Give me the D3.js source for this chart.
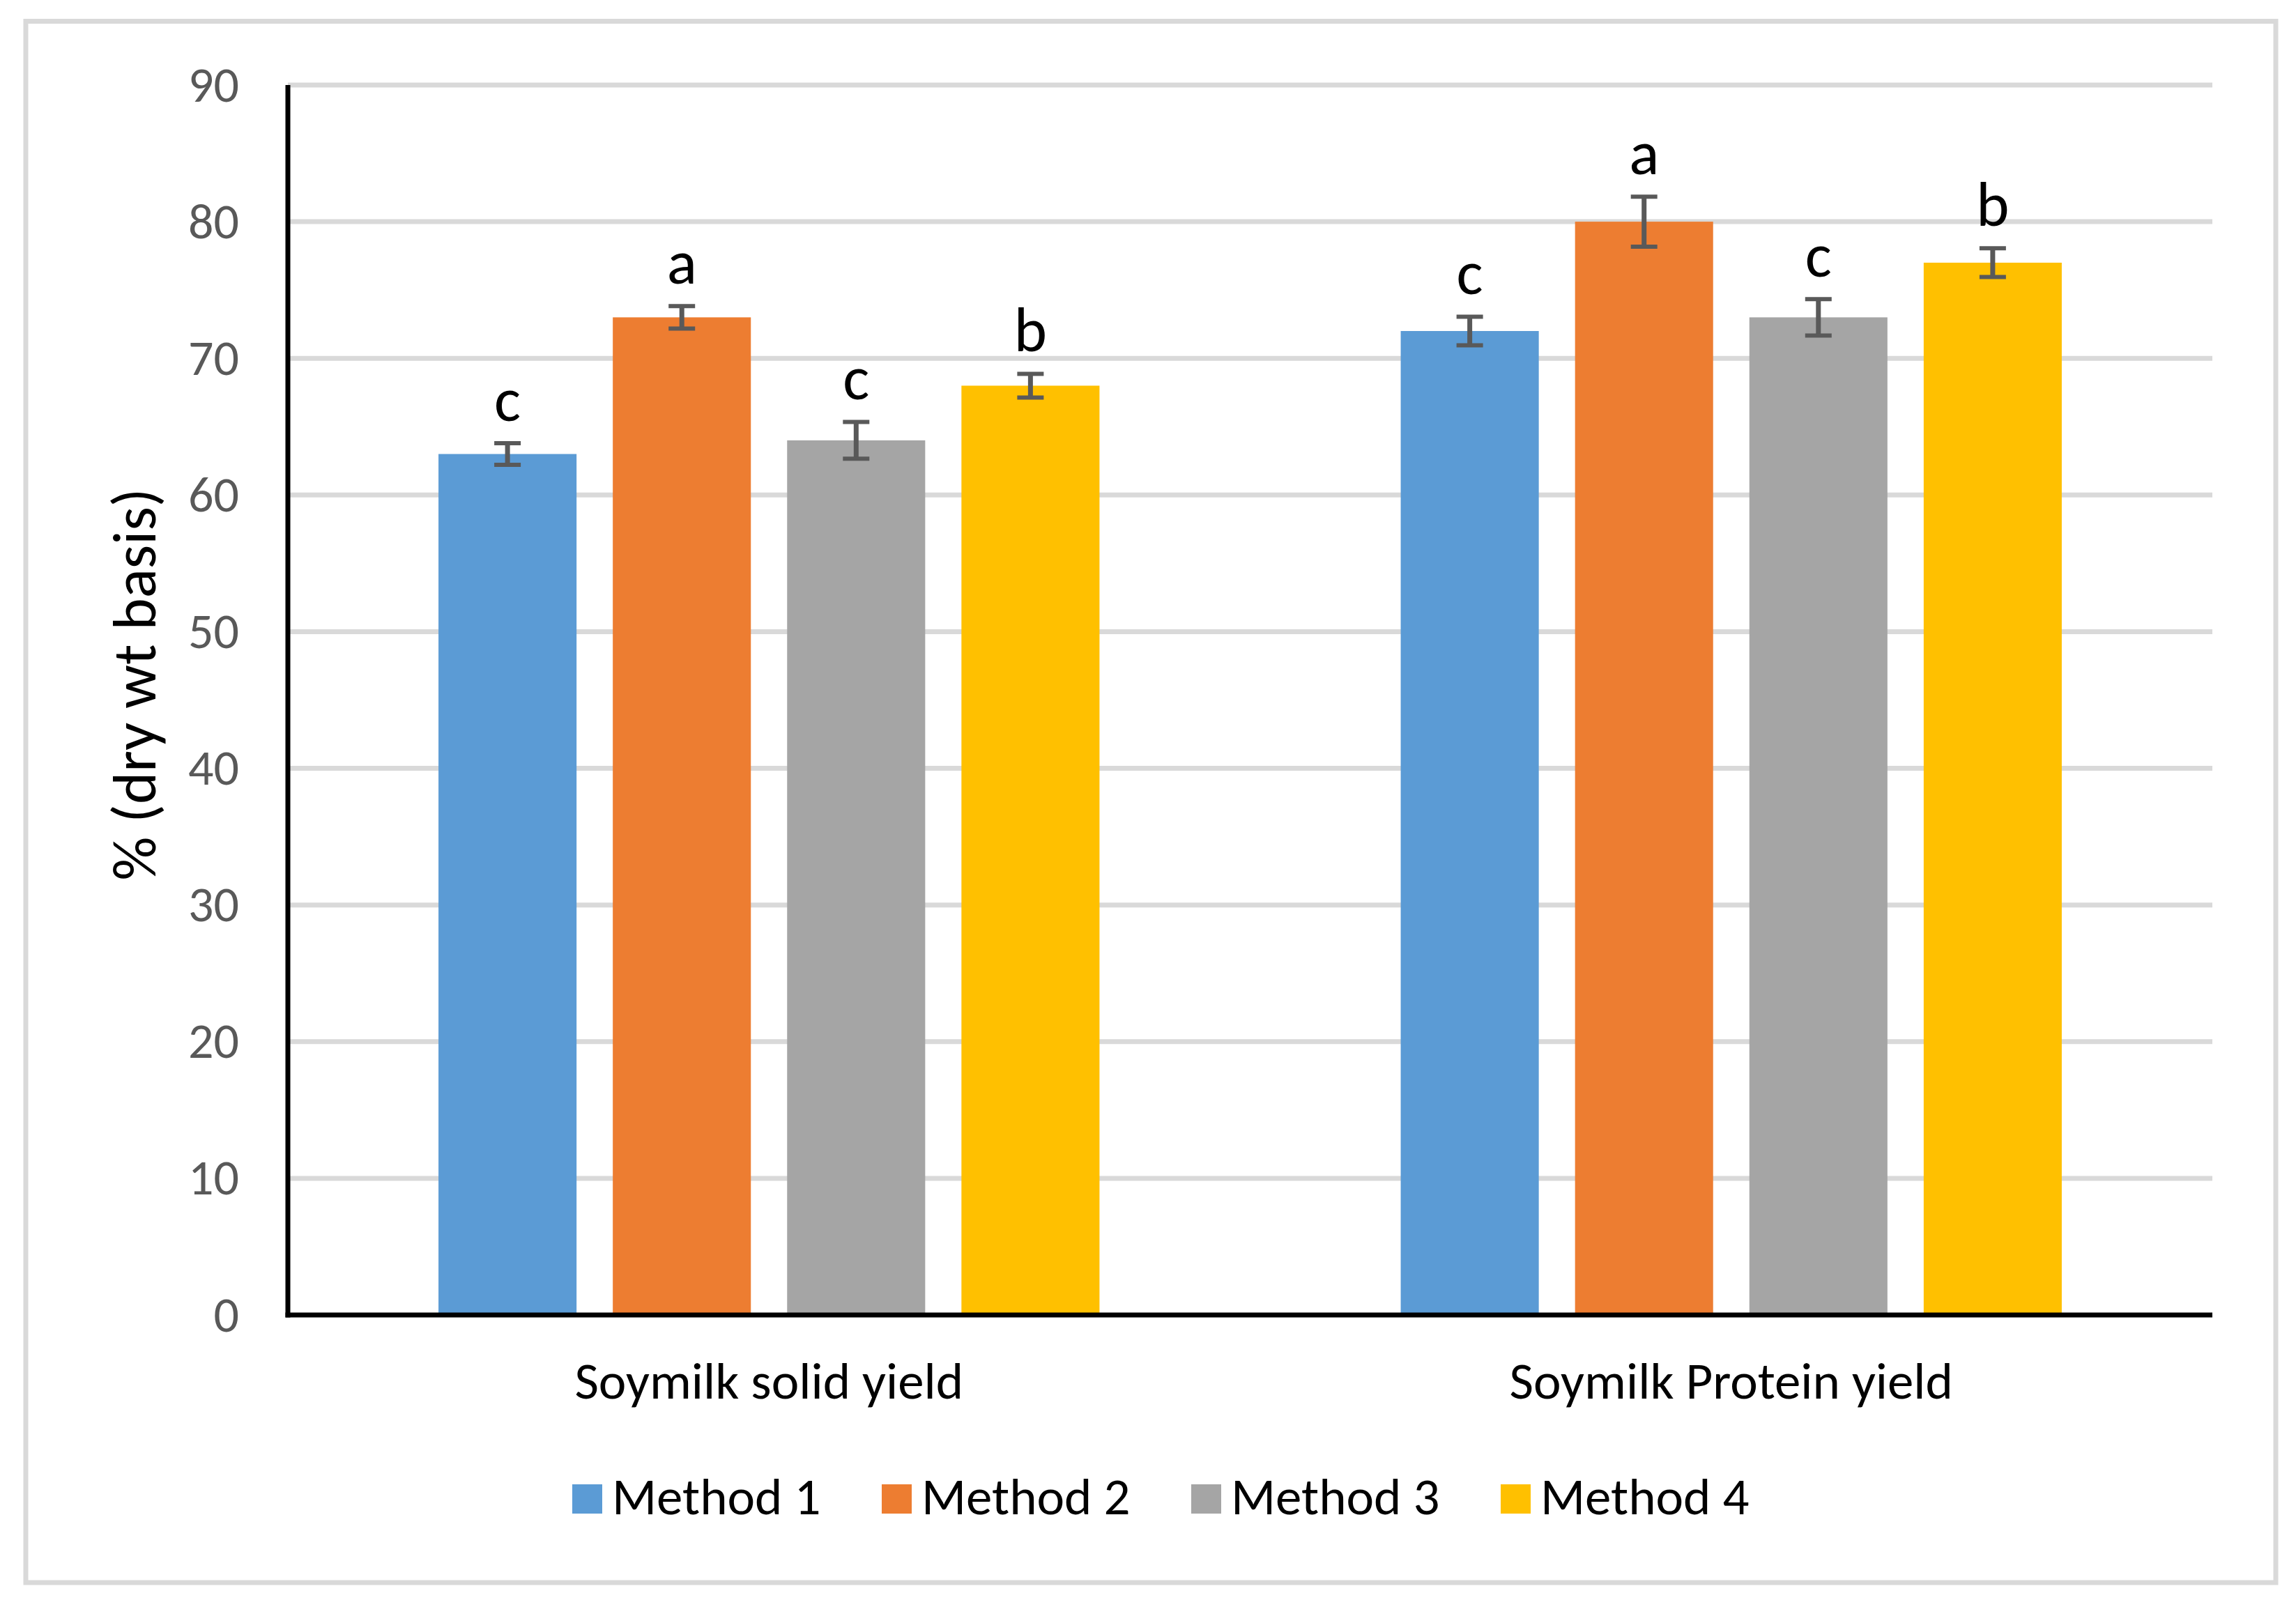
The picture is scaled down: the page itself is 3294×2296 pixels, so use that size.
<!DOCTYPE html>
<html>
<head>
<meta charset="utf-8">
<script src="https://cdn.jsdelivr.net/npm/d3@7"></script>
<style>
    body { margin: 0; background: #fff; }
    text { font-family: Carlito, Lato, sans-serif; }
</style>
</head>
<body>
<div id="chart"></div>
<script>
// chart values
const categories = ["Soymilk solid yield", "Soymilk Protein yield"];
const methods = ["Method 1", "Method 2", "Method 3", "Method 4"];
const solidYield = [63, 73, 64, 68];
const proteinYield = [72, 80, 73, 77];
const solidError = [0.79, 0.82, 1.35, 0.87];
const proteinError = [1.05, 1.83, 1.33, 1.05];
const solidLetters = ["c", "a", "c", "b"];
const proteinLetters = ["c", "a", "c", "b"];
const yTicks = [0, 10, 20, 30, 40, 50, 60, 70, 80, 90];

const colors = ["#5B9BD5", "#ED7D31", "#A5A5A5", "#FFC000"];

const width = 3294;
const height = 2296;
const plotLeft = 413;
const plotRight = 3174;
const plotTop = 122;
const plotBottom = 1887;

// one row per bar
const values = [solidYield, proteinYield];
const errors = [solidError, proteinError];
const letters = [solidLetters, proteinLetters];
const data = [];
categories.forEach((cat, i) => {
    methods.forEach((m, j) => {
        data.push({ cat: cat, method: m, value: values[i][j], err: errors[i][j], letter: letters[i][j] });
    });
});

const xScale = d3.scaleBand()
                 .domain(categories)
                 .range([plotLeft, plotRight]);
const xInner = d3.scaleBand()
                 .domain(methods)
                 .range([0, xScale.bandwidth()])
                 .paddingInner(0.208)
                 .paddingOuter(0.864);
const yScale = d3.scaleLinear()
                 .domain([0, 90])
                 .range([plotBottom, plotTop]);
const color = d3.scaleOrdinal()
                .domain(methods)
                .range(colors);

const svg = d3.select("#chart")
              .append("svg")
              .attr("width", width)
              .attr("height", height);

// outer chart border
svg.append("rect")
   .attr("x", 37)
   .attr("y", 30.5)
   .attr("width", 3265 - 37)
   .attr("height", 2271 - 30.5)
   .attr("fill", "#fff")
   .attr("stroke", "#D9D9D9")
   .attr("stroke-width", 7);

// gridlines
svg.append("g")
   .selectAll("line")
   .data(yTicks.slice(1))
   .enter()
   .append("line")
   .attr("x1", plotLeft)
   .attr("x2", plotRight)
   .attr("y1", (d) => yScale(d))
   .attr("y2", (d) => yScale(d))
   .attr("stroke", "#D9D9D9")
   .attr("stroke-width", 7);

// bars
svg.append("g")
   .selectAll("rect")
   .data(data)
   .enter()
   .append("rect")
   .attr("x", (d) => xScale(d.cat) + xInner(d.method))
   .attr("y", (d) => yScale(d.value))
   .attr("width", xInner.bandwidth())
   .attr("height", (d) => plotBottom - yScale(d.value))
   .attr("fill", (d) => color(d.method));

// error bars
const errG = svg.append("g")
                .attr("stroke", "#595959")
                .attr("fill", "none");
const cx = (d) => xScale(d.cat) + xInner(d.method) + xInner.bandwidth() / 2;

errG.selectAll(".stem")
    .data(data)
    .enter()
    .append("line")
    .attr("class", "stem")
    .attr("x1", cx)
    .attr("x2", cx)
    .attr("y1", (d) => yScale(d.value + d.err))
    .attr("y2", (d) => yScale(d.value - d.err))
    .attr("stroke-width", 7);

errG.selectAll(".cap")
    .data(data.flatMap((d) => [d.value + d.err, d.value - d.err].map((v) => ({ d: d, v: v }))))
    .enter()
    .append("line")
    .attr("class", "cap")
    .attr("x1", (e) => cx(e.d) - 19)
    .attr("x2", (e) => cx(e.d) + 19)
    .attr("y1", (e) => yScale(e.v))
    .attr("y2", (e) => yScale(e.v))
    .attr("stroke-width", 6);

// significance letters
svg.append("g")
   .selectAll("text")
   .data(data)
   .enter()
   .append("text")
   .attr("x", cx)
   .attr("y", (d) => yScale(d.value + d.err) - 32)
   .attr("text-anchor", "middle")
   .attr("font-size", 90)
   .attr("fill", "#000")
   .text((d) => d.letter);

// y axis
const yAxis = d3.axisLeft(yScale)
                .tickValues(yTicks)
                .tickSize(0)
                .tickPadding(70);
const yG = svg.append("g")
              .attr("transform", "translate(" + plotLeft + ", 0)")
              .call(yAxis);
yG.select(".domain").remove();
yG.selectAll("text")
  .attr("font-size", 72)
  .attr("fill", "#595959")
  .attr("font-family", "Carlito, Lato, sans-serif");

svg.append("line")
   .attr("x1", plotLeft)
   .attr("x2", plotLeft)
   .attr("y1", plotTop)
   .attr("y2", plotBottom + 3.5)
   .attr("stroke", "#000")
   .attr("stroke-width", 7);

// x axis
svg.append("line")
   .attr("x1", plotLeft - 3.5)
   .attr("x2", plotRight)
   .attr("y1", plotBottom)
   .attr("y2", plotBottom)
   .attr("stroke", "#000")
   .attr("stroke-width", 7);

svg.append("g")
   .selectAll("text")
   .data(categories)
   .enter()
   .append("text")
   .attr("x", (d) => xScale(d) + xScale.bandwidth() / 2)
   .attr("y", 2007)
   .attr("text-anchor", "middle")
   .attr("font-size", 75)
   .attr("fill", "#000")
   .text((d) => d);

// y axis title
svg.append("text")
   .attr("transform", "translate(223, 982) rotate(-90)")
   .attr("text-anchor", "middle")
   .attr("font-size", 88)
   .attr("fill", "#000")
   .text("% (dry wt basis)");

// legend
const legend = svg.append("g")
                  .selectAll("g")
                  .data(methods)
                  .enter()
                  .append("g")
                  .attr("transform", (d, i) => "translate(" + (821 + i * 444) + ", 2130)");
legend.append("rect")
      .attr("width", 43)
      .attr("height", 42)
      .attr("fill", (d) => color(d));
legend.append("text")
      .attr("x", 57)
      .attr("y", 43)
      .attr("font-size", 75)
      .attr("fill", "#000")
      .text((d) => d);
</script>
</body>
</html>
